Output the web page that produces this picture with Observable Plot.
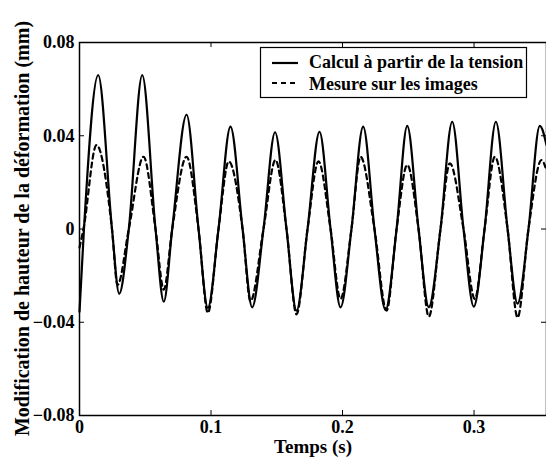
<!DOCTYPE html>
<html><head><meta charset="utf-8">
<script src="https://cdn.jsdelivr.net/npm/d3@7"></script>
<script src="https://cdn.jsdelivr.net/npm/@observablehq/plot@0.6"></script>
<style>
body{margin:0;background:#fff;}
#chart{position:relative;width:546px;height:457px;overflow:hidden;}
#chart svg, #chart svg text{font-family:"Liberation Serif","Times New Roman",Times,"DejaVu Serif",serif !important;font-weight:bold;}
</style></head><body><div id="chart"></div>
<script>
// Data (time in s, deformation height change in mm)
const calculT = [0, 0.0034, 0.0142, 0.0247, 0.0302, 0.0375, 0.0477, 0.0578, 0.0641, 0.0705, 0.0814, 0.0905, 0.0976, 0.1057, 0.1148, 0.1240, 0.1313, 0.1399, 0.1487, 0.1574, 0.1650, 0.1734, 0.1825, 0.1909, 0.1985, 0.2068, 0.2157, 0.2243, 0.2327, 0.2411, 0.2492, 0.2578, 0.2656, 0.2745, 0.2834, 0.2920, 0.2998, 0.3080, 0.3166, 0.3255, 0.3331, 0.3414, 0.3500, 0.3551];
const calculV = [-0.0355, 0, 0.066, 0, -0.0278, 0, 0.066, 0, -0.0312, 0, 0.049, 0, -0.0338, 0, 0.0439, 0, -0.0336, 0, 0.0415, 0, -0.035, 0, 0.0417, 0, -0.0336, 0, 0.0439, 0, -0.0347, 0, 0.0442, 0, -0.0335, 0, 0.046, 0, -0.0333, 0, 0.046, 0, -0.032, 0, 0.0442, 0.036];
const mesureT = [0, 0.0030, 0.0129, 0.0247, 0.0289, 0.0375, 0.0487, 0.0578, 0.0641, 0.0705, 0.0814, 0.0905, 0.0976, 0.1057, 0.1135, 0.1240, 0.1300, 0.1399, 0.1490, 0.1574, 0.1650, 0.1734, 0.1817, 0.1909, 0.1985, 0.2068, 0.2137, 0.2243, 0.2335, 0.2411, 0.2492, 0.2578, 0.2656, 0.2745, 0.2816, 0.2920, 0.3006, 0.3080, 0.3158, 0.3255, 0.3331, 0.3414, 0.3513, 0.3551];
const mesureV = [-0.008, 0, 0.036, 0, -0.024, 0, 0.031, 0, -0.026, 0, 0.031, 0, -0.036, 0, 0.029, 0, -0.031, 0, 0.0296, 0, -0.0366, 0, 0.029, 0, -0.030, 0, 0.031, 0, -0.035, 0, 0.0275, 0, -0.0376, 0, 0.0282, 0, -0.030, 0, 0.031, 0, -0.038, 0, 0.0296, 0.025];
const xTicks = [0, 0.1, 0.2, 0.3];
const yTicks = [-0.08, -0.04, 0, 0.04, 0.08];
const xLabel = "Temps (s)";
const yLabel = "Modification de hauteur de la déformation (mm)";
const seriesNames = ["Calcul à partir de la tension", "Mesure sur les images"];

const calcul = calculT.map((t, i) => ({t, v: calculV[i]}));
const mesure = mesureT.map((t, i) => ({t, v: mesureV[i]}));

const W = 546, H = 457, mL = 79, mR = 0, mT = 42, mB = 42;
const pw = W - mL - mR, ph = H - mT - mB;
const fmt = d => d === 0 ? "0" : String(d).replace("-", "\u2212");
const FONT = "Liberation Serif, Times New Roman, Times, DejaVu Serif, serif";

const plot = Plot.plot({
  width: W, height: H,
  marginLeft: mL, marginRight: mR, marginTop: mT, marginBottom: mB,
  style: {fontFamily: FONT, fontWeight: "bold", fontSize: "18px", background: "#fff", color: "#000"},
  x: {domain: [0, 0.3551]},
  y: {domain: [-0.08, 0.08]},
  marks: [
    Plot.line(calcul, {x: "t", y: "v", curve: "monotone-x", stroke: "#000", strokeWidth: 2.2}),
    Plot.line(mesure, {x: "t", y: "v", curve: "monotone-x", stroke: "#000", strokeWidth: 2.2, strokeDasharray: "5,4"}),
    Plot.frame({stroke: "#000", strokeWidth: 1.5}),
    Plot.tickY(yTicks, {y: d => d, insetRight: pw - 5, stroke: "#000"}),
    Plot.tickY(yTicks, {y: d => d, insetLeft: pw - 5, stroke: "#000"}),
    Plot.tickX(xTicks, {x: d => d, insetTop: ph - 5, stroke: "#000"}),
    Plot.tickX(xTicks, {x: d => d, insetBottom: ph - 5, stroke: "#000"}),
    Plot.axisX(xTicks, {tickSize: 0, tickPadding: 5, tickFormat: fmt, label: null}),
    Plot.axisY(yTicks, {tickSize: 0, tickPadding: 5, tickFormat: fmt, label: null})
  ]
});
document.getElementById("chart").appendChild(plot);

const svg = d3.select(plot);
svg.append("text")
  .attr("transform", "translate(29,228.5) rotate(-90)")
  .attr("text-anchor", "middle").attr("font-size", 20).attr("font-weight", "bold")
  .text(yLabel);
svg.append("text")
  .attr("x", 313).attr("y", 453)
  .attr("text-anchor", "middle").attr("font-size", 19).attr("font-weight", "bold")
  .text(xLabel);

const lg = svg.append("g").attr("font-weight", "bold").attr("font-size", 18);
lg.append("rect").attr("x", 260.5).attr("y", 47.5).attr("width", 266).attr("height", 50)
  .attr("fill", "#fff").attr("stroke", "#000").attr("stroke-width", 1.2);
lg.append("line").attr("x1", 272).attr("x2", 298).attr("y1", 63).attr("y2", 63)
  .attr("stroke", "#000").attr("stroke-width", 2.2);
lg.append("line").attr("x1", 272).attr("x2", 298).attr("y1", 83).attr("y2", 83)
  .attr("stroke", "#000").attr("stroke-width", 2.2).attr("stroke-dasharray", "5,4");
lg.append("text").attr("x", 309).attr("y", 67.5).attr("text-anchor", "start").text(seriesNames[0]);
lg.append("text").attr("x", 309).attr("y", 89.5).attr("text-anchor", "start").text(seriesNames[1]);
</script></body></html>
